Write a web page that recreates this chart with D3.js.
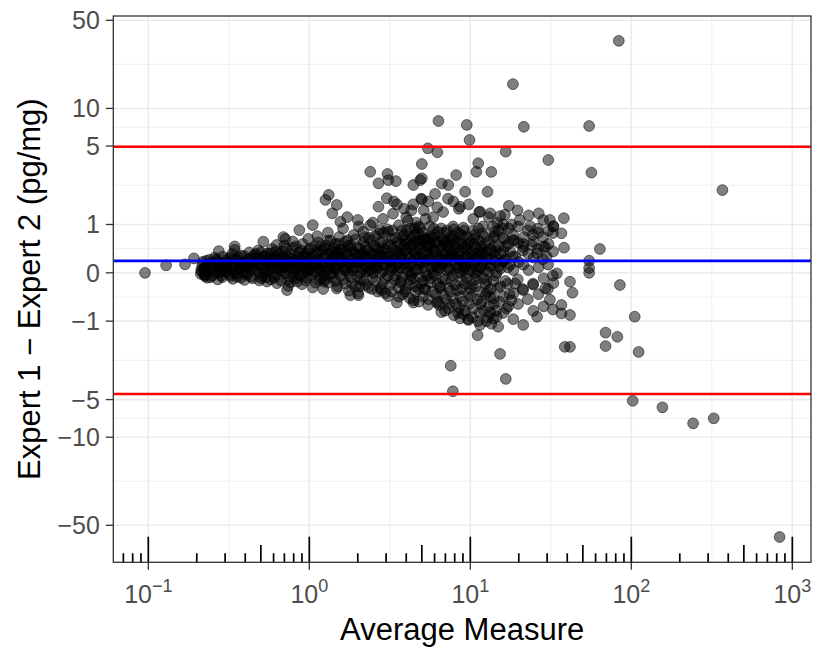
<!DOCTYPE html>
<html><head><meta charset="utf-8">
<script src="https://cdn.jsdelivr.net/npm/d3@7"></script>
<style>
body{margin:0;background:#fff}
svg{display:block}
text{font-family:"Liberation Sans",Arial,Helvetica,sans-serif}
</style>
</head><body>
<svg id="chart" width="830" height="664"></svg>
<script>
// ---------- data ----------
const xTickValues = [0.1, 1, 10, 100, 1000];
const xTickExponents = ["\u22121", "0", "1", "2", "3"];
const yTickValues = [-50, -10, -5, -1, 0, 1, 5, 10, 50];
const yTickLabels = ["\u221250", "\u221210", "\u22125", "\u22121", "0", "1", "5", "10", "50"];
const meanDifference = 0.22;
const agreementLimits = [-4.50, 4.94];
const xTitle = "Average Measure";
const yTitle = "Expert 1 \u2212 Expert 2 (pg/mg)";

// dense band of measurements [average, difference]
const bandPoints = [
[0.213,0.05],[0.216,0.12],[0.212,-0.02],
[0.218,0.20],[0.222,0.08],[0.225,-0.06],[0.215,0.02],
[0.235,0.15],[0.24,0.24],[0.232,-0.09],[0.238,0.03],
[0.252,0.10],[0.258,0.28],[0.25,-0.05],[0.26,0.18],
[0.27,-0.12],[0.276,0.07],[0.268,0.22],[0.279,0.01],
[0.29,0.30],[0.296,0.14],[0.288,-0.08],[0.3,0.04],
[0.312,0.19],[0.318,-0.03],[0.31,0.26],[0.322,0.09],
[0.335,-0.11],[0.341,0.12],[0.332,0.35],[0.344,0.02],
[0.36,0.22],[0.366,0.06],[0.356,-0.07],[0.369,0.16],[0.362,0.29],
[0.387,0.00],[0.393,0.31],[0.383,0.11],[0.396,-0.13],[0.39,0.19],
[0.414,0.08],[0.421,0.25],[0.41,-0.04],[0.424,0.38],[0.418,0.14],
[0.445,-0.10],[0.452,0.20],[0.44,0.05],[0.455,0.33],[0.449,0.12],
[0.478,0.27],[0.486,0.00],[0.473,0.15],[0.49,-0.14],[0.482,0.42],
[0.514,0.09],[0.522,0.30],[0.508,-0.06],[0.526,0.21],[0.518,0.03],
[0.551,0.36],[0.56,0.13],[0.546,-0.16],[0.565,0.24],[0.556,0.05],
[0.592,0.00],[0.601,0.18],[0.586,0.45],[0.606,-0.09],[0.597,0.29],
[0.636,0.11],[0.646,0.34],[0.63,-0.19],[0.65,0.22],[0.641,0.06],
[0.682,0.40],[0.693,-0.02],[0.676,0.15],[0.698,0.52],[0.688,0.27],
[0.733,-0.12],[0.745,0.08],[0.727,0.31],[0.75,0.20],[0.74,-0.24],
[0.788,0.47],[0.8,0.02],[0.781,0.25],[0.806,0.13],[0.795,-0.07],[0.79,0.60],
[0.846,0.16],[0.86,0.38],[0.84,-0.16],[0.866,0.07],[0.854,0.28],[0.85,-0.03],
[0.91,0.55],[0.924,0.10],[0.902,-0.21],[0.93,0.33],[0.917,0.19],[0.92,0.00],
[0.976,0.23],[0.992,0.44],[0.968,-0.09],[1.0,0.05],[0.985,0.66],[0.98,0.14],
[1.05,-0.27],[1.07,0.30],[1.04,0.11],[1.075,0.50],[1.06,0.02],[1.055,0.20],
[1.13,0.37],[1.15,-0.13],[1.12,0.72],[1.155,0.08],[1.14,0.25],[1.135,0.58],
[1.21,0.15],[1.23,-0.05],[1.2,0.42],[1.235,0.28],[1.22,-0.30],[1.215,0.03],
[1.3,0.62],[1.32,0.19],[1.29,0.06],[1.325,0.35],[1.31,-0.18],[1.305,0.80],
[1.4,0.10],[1.42,0.47],[1.39,-0.08],[1.425,0.24],[1.41,0.00],[1.405,0.31],
[1.5,-0.25],[1.52,0.55],[1.49,0.14],[1.53,0.70],[1.51,0.38],[1.505,0.05],
[1.61,0.21],[1.63,-0.12],[1.6,0.44],[1.64,0.08],[1.62,0.90],[1.615,0.29],
[1.73,0.63],[1.75,0.00],[1.72,0.33],[1.76,-0.33],[1.74,0.17],[1.735,0.51],
[1.86,0.11],[1.88,0.40],[1.85,-0.20],[1.89,0.75],[1.87,0.26],[1.865,0.04],
[2.0,0.48],[2.02,0.19],[1.99,-0.06],[2.03,0.95],[2.01,0.32],[2.005,-0.38],
[2.15,0.07],[2.17,0.58],[2.14,0.23],[2.18,-0.15],[2.16,0.82],[2.155,0.36],
[2.31,0.42],[2.33,-0.27],[2.3,0.13],[2.34,0.68],[2.32,0.02],[2.315,0.27],
[2.48,1.05],[2.5,0.18],[2.47,-0.09],[2.51,0.52],[2.49,0.35],[2.485,0.00],
[2.67,0.09],[2.69,0.46],[2.66,-0.35],[2.7,0.28],[2.68,0.78],[2.675,0.20],
[2.86,0.60],[2.88,0.14],[2.85,-0.20],[2.9,0.38],[2.87,1.15],[2.865,0.03],
[3.08,-0.05],[3.1,0.31],[3.06,0.88],[3.12,0.22],[3.09,-0.44],[3.085,0.55],
[3.3,0.45],[3.34,0.08],[3.28,0.66],[3.36,-0.13],[3.32,0.26],[3.31,1.3],
[3.54,0.17],[3.58,-0.28],[3.52,0.39],[3.6,0.98],[3.56,0.04],[3.55,0.60],
[3.81,0.72],[3.85,0.25],[3.78,-0.08],[3.87,1.45],[3.83,0.50],[3.82,-0.40],
[4.09,0.12],[4.13,0.36],[4.06,0.85],[4.15,-0.22],[4.11,0.02],[4.1,1.1],
[4.38,0.55],[4.43,-0.52],[4.35,0.21],[4.45,0.70],[4.41,0.40],[4.4,-0.10],[4.42,1.6],
[4.71,0.06],[4.76,0.95],[4.68,0.30],[4.79,-0.30],[4.74,0.78],[4.73,0.48],[4.75,0.15],
[5.06,0.62],[5.11,-0.15],[5.03,0.38],[5.14,1.4],[5.09,0.10],[5.08,-0.45],[5.1,0.80],
[5.44,0.25],[5.5,0.68],[5.41,-0.05],[5.53,0.52],[5.47,-0.62],[5.46,0.33],[5.48,1.7],
[5.84,0.70],[5.9,0.12],[5.8,-0.35],[5.93,0.90],[5.87,0.44],[5.86,0.00],[5.88,1.2],
[6.27,-0.20],[6.34,0.58],[6.23,1.5],[6.37,0.27],[6.31,-0.55],[6.3,0.82],[6.32,0.06],
[6.73,0.35],[6.8,0.62],[6.69,-0.10],[6.84,0.65],[6.77,-0.40],[6.76,0.18],[6.78,1.35],
[7.23,0.50],[7.31,-0.28],[7.18,0.85],[7.35,0.08],[7.27,1.8],[7.26,0.30],[7.28,-0.70],
[7.76,-0.05],[7.85,0.72],[7.72,0.22],[7.9,0.88],[7.81,-0.48],[7.8,0.40],[7.82,0.95],
[8.34,0.60],[8.44,0.10],[8.29,-0.32],[8.49,1.45],[8.39,0.35],[8.38,-0.80],[8.4,0.80],
[8.95,0.18],[9.05,0.92],[8.9,-0.15],[9.1,0.48],[9.0,0.72],[8.99,-0.55],[9.02,0.05],
[9.62,0.70],[9.72,-0.38],[9.56,0.28],[9.78,1.6],[9.67,0.00],[9.66,0.55],[9.68,-0.95],
[10.3,0.40],[10.5,0.66],[10.25,-0.22],[10.55,0.15],[10.4,-0.70],[10.38,0.85],[10.42,1.15],
[11.1,0.05],[11.3,0.62],[11.05,-0.50],[11.35,1.35],[11.2,0.30],[11.18,-1.0],[11.22,0.90],
[11.9,0.78],[12.1,-0.10],[11.85,0.45],[12.15,-0.75],[12.0,0.95],[12.02,0.20],
[12.8,0.25],[13.0,1.2],[12.75,-0.35],[13.05,0.60],[12.9,-0.90],[12.92,0.02],
[13.8,0.95],[14.0,-0.60],[13.75,0.38],[14.05,0.82],[13.9,-0.15],[13.92,0.70],
[14.8,-0.28],[15.0,0.50],[14.75,1.05],[15.05,0.12],[14.9,-1.15],[14.92,0.85],
[15.9,0.68],[16.1,-0.45],[15.85,0.9],[16.15,0.22],[16.0,-0.80],[16.02,0.40],
[17.1,0.10],[17.3,0.90],[17.05,-0.20],[17.35,1.55],[17.2,0.55],[17.22,-0.65],
[18.4,0.75],[18.6,-0.38],[18.35,0.30],[18.65,0.62],[18.5,-0.95],[18.52,0.05],
[19.7,-0.12],[19.9,0.58],[19.65,1.4],[19.95,0.20],[19.8,-0.60],[19.82,0.95],
[21.2,0.42],[21.4,0.55],[21.15,-0.30],[21.45,0.70],[21.3,-1.1],[21.32,0.15],
[22.8,0.85],[23.0,0.05],[22.75,-0.50],[23.05,1.25],[22.9,0.35],
[24.5,-0.20],[24.7,0.60],[24.45,0.75],[24.75,0.28],[24.6,-0.75],
[26.3,0.45],[26.5,-0.40],[26.25,0.90],[26.55,0.10],[26.4,0.8],
[28.3,0.70],[28.5,-0.10],[28.25,0.25],[28.55,-0.65],[28.4,0.5],
[30.4,0.15],[30.6,0.55],[30.35,-0.30],[30.65,0.85],
[32.6,-0.05],[32.8,0.95],[32.65,0.40],
[3.7,0.3],[3.72,-0.15],[3.75,0.85],[3.95,0.55],[3.97,-0.3],[4.0,1.2],[3.98,0.18],
[4.25,0.65],[4.28,-0.05],[4.3,1.4],[4.22,0.9],[4.55,0.28],[4.58,-0.35],[4.6,1.05],[4.52,0.75],
[4.9,0.45],[4.93,-0.2],[4.86,0.92],[4.95,1.8],[5.25,0.2],[5.3,0.65],[5.2,-0.3],[5.28,1.15],
[5.65,0.55],[5.7,-0.1],[5.6,0.95],[6.05,0.4],[6.1,-0.4],[6.0,0.75],[6.55,0.15],[6.6,0.9],[6.5,-0.25],
[7.0,0.6],[7.05,-0.5],[6.95,0.25],[7.55,0.45],[7.6,-0.15],[7.5,0.7],[8.1,0.2],[8.15,-0.6],[8.05,0.55],
[8.7,0.75],[8.75,-0.3],[8.65,0.3],[9.3,0.1],[9.35,0.45],[9.25,-0.75],[10.0,0.6],[10.1,-0.45],[9.9,0.2],
[10.8,0.35],[10.85,-0.25],[10.7,0.75],[11.6,-0.6],[11.65,0.5],[11.55,0.1],[12.4,0.4],[12.5,-0.4],
[13.3,0.15],[13.4,-0.3],[14.3,0.3],[14.4,-0.75],
[1.35,0.15],[1.45,0.4],[1.55,0.25],[1.68,0.1],[1.8,0.45],[1.95,0.2],[2.1,0.35],[2.25,0.05],[2.4,0.3],
[2.6,0.15],[2.78,0.4],[2.95,0.25],[3.2,0.1],[3.45,0.35],[0.95,0.3],[1.1,0.15],[1.25,0.45],[0.82,0.18],
[0.7,0.09],[0.6,0.12]
];

// densest core of the band [average, difference]
const corePoints = [
[0.227,0.10],[0.228,0.22],[0.226,-0.03],
[0.245,0.05],[0.246,0.17],[0.244,-0.08],
[0.264,0.25],[0.265,0.00],[0.263,0.12],
[0.283,0.18],[0.284,-0.05],[0.282,0.08],
[0.304,0.02],[0.305,0.22],[0.303,0.12],
[0.326,0.28],[0.327,0.06],[0.325,-0.06],
[0.35,0.15],[0.351,-0.02],[0.349,0.25],
[0.376,0.09],[0.377,0.32],[0.375,-0.09],
[0.403,0.20],[0.404,0.01],[0.402,0.13],
[0.433,0.27],[0.434,-0.07],[0.432,0.16],
[0.465,0.08],[0.466,0.35],[0.464,0.20],
[0.5,0.14],[0.502,-0.10],[0.498,0.25],[0.501,0.38],
[0.537,0.02],[0.539,0.19],[0.535,0.31],[0.538,-0.08],
[0.577,0.22],[0.579,0.08],[0.575,-0.12],[0.578,0.36],
[0.62,0.15],[0.622,0.40],[0.618,-0.04],[0.621,0.26],
[0.666,0.05],[0.668,0.30],[0.664,0.18],[0.667,-0.14],
[0.715,0.22],[0.717,0.45],[0.713,0.00],[0.716,0.12],
[0.768,0.35],[0.77,0.10],[0.766,-0.17],[0.769,0.26],
[0.825,0.05],[0.827,0.22],[0.823,0.50],[0.826,-0.10],
[0.885,0.30],[0.887,0.12],[0.883,-0.05],[0.886,0.42],
[0.95,0.18],[0.952,0.36],[0.948,-0.14],[0.951,0.06],
[1.02,0.28],[1.022,0.09],[1.018,0.45],[1.021,-0.06],
[1.095,0.15],[1.097,0.38],[1.093,-0.18],[1.096,0.02],
[1.175,0.50],[1.177,0.20],[1.173,0.04],[1.176,-0.10],
[1.26,0.30],[1.262,0.10],[1.258,-0.12],[1.261,0.52],
[1.355,0.22],[1.357,0.40],[1.353,-0.02],[1.356,0.62],
[1.455,0.08],[1.457,0.32],[1.453,0.55],[1.456,-0.15],
[1.565,0.18],[1.567,0.45],[1.563,-0.05],[1.566,0.30],
[1.68,0.38],[1.682,0.05],[1.678,0.60],[1.681,-0.20],
[1.805,0.25],[1.807,-0.08],[1.803,0.15],[1.806,0.52],
[1.94,0.35],[1.942,0.10],[1.938,-0.25],[1.941,0.65],
[2.08,0.20],[2.082,0.45],[2.078,0.00],[2.081,-0.12],
[2.235,0.50],[2.237,0.12],[2.233,0.30],[2.236,-0.22],
[2.4,0.05],[2.402,0.38],[2.398,0.62],[2.401,0.18],
[2.58,0.25],[2.582,-0.15],[2.578,0.48],[2.581,0.10],
[2.77,0.33],[2.772,0.00],[2.768,0.58],[2.771,-0.28],
[2.97,0.15],[2.972,0.44],[2.968,-0.10],[2.971,0.30],
[3.19,0.52],[3.192,0.20],[3.188,-0.22],[3.191,0.05],
[3.43,0.12],[3.432,0.40],[3.428,0.68],[3.431,-0.05],
[3.68,0.25],[3.682,-0.18],[3.678,0.55],[3.681,0.35],
[3.95,0.08],[3.952,0.42],[3.948,-0.35],[3.951,0.62],
[4.24,0.28],[4.242,-0.12],[4.238,0.50],[4.241,0.15],
[4.56,0.35],[4.562,0.05],[4.558,-0.25],[4.561,0.60],
[4.9,0.18],[4.902,0.55],[4.898,-0.08],[4.901,0.30],
[5.26,0.40],[5.262,0.00],[5.258,0.65],[5.261,-0.30],
[5.65,0.22],[5.652,0.48],[5.648,-0.18],[5.651,0.10],
[6.07,0.32],[6.072,-0.05],[6.068,0.58],[6.071,0.15],
[6.52,0.45],[6.522,0.10],[6.518,-0.28],[6.521,0.25],
[7.0,0.20],[7.002,0.55],[6.998,-0.12],[7.001,0.38],
[7.52,0.30],[7.522,-0.35],[7.518,0.05],[7.521,0.62],
[8.08,0.15],[8.082,0.48],[8.078,-0.22],[8.081,0.30],
[8.68,0.40],[8.682,0.00],[8.678,0.22],[8.681,-0.45],
[9.32,0.28],[9.322,-0.20],[9.318,0.50],[9.321,0.12],
[10.0,0.35],[10.02,0.05],[9.98,-0.30],[10.01,0.18],
[10.75,0.22],[10.77,0.48],[10.73,-0.12],[10.76,0.00],
[11.55,0.10],[11.57,0.38],[11.53,-0.35],[11.56,0.25],
[12.4,0.30],[12.42,-0.20],[12.38,0.55],[12.41,0.05],
[13.3,0.45],[13.32,0.12],[13.28,-0.45],
[14.3,0.20],[14.32,-0.05],[14.28,0.40],
[15.4,0.08],[15.42,0.35],[15.38,-0.25],
[16.5,0.25],[16.52,-0.15],[16.48,0.50],
[17.7,0.15],[17.72,0.40],
[19.0,0.30],[19.02,-0.20],
[3.6,-0.45],[3.9,0.75],[4.2,-0.48],[4.5,0.9],[4.8,-0.55],[5.15,0.7],[5.5,-0.5],[5.95,0.68],[6.4,-0.62],
[6.9,0.8],[7.4,-0.6],[7.95,0.65],[8.5,-0.68],[9.15,0.85],[9.85,-0.6],[10.6,0.55],[11.4,-0.8],[12.2,0.7],
[13.1,-0.65],[14.1,0.5],[15.2,-0.55],[16.3,0.65],[17.5,-0.4],
[3.65,0.1],[4.05,0.45],[4.35,0.0],[4.7,0.6],[5.0,0.2],[5.4,0.5],[5.75,0.3],[6.2,0.1],[6.65,0.5],
[7.15,0.05],[7.7,0.35],[8.25,0.0],[8.85,0.55],[9.5,-0.1],[10.2,0.3],[11.0,-0.05],[11.8,0.35],[12.6,-0.15],
[13.6,0.25],[14.6,0.0],[15.7,0.2],
[6.6,-0.78],[7.9,-0.85],[9.0,-0.82],[10.3,-0.9],[12.6,-1.0],[14.6,-0.88],[16.8,-0.7],
[2.2,0.7],[2.55,0.72],[2.9,0.8],[3.3,0.85],[2.05,-0.25],[2.45,-0.3],[2.8,-0.32],[3.25,-0.35]
];

// individually readable measurements [average, difference]
const scatterPoints = [
[0.0954,0.0],[0.129,0.137],[0.169,0.155],[0.192,0.266],[0.224,-0.04],[0.274,0.405],[0.344,0.50],[0.344,0.43],
[0.727,-0.32],[0.867,0.86],[1.05,0.985],[0.518,0.6],[0.69,0.7],[0.627,0.53],
[1.32,1.95],[1.26,1.76],[1.48,1.58],[1.39,1.31],[0.71,0.66],[1.56,1.07],[1.72,1.2],[2.0,1.12],[2.39,0.985],
[2.69,1.52],[3.03,1.82],[3.35,1.7],[2.76,0.86],[3.1,0.82],
[2.39,3.08],[2.69,2.46],[3.06,2.95],[3.1,2.62],[3.45,2.57],[4.43,2.38],[4.88,2.62],[5.0,2.71],
[6.34,7.94],[9.51,7.39],[9.89,5.59],[21.5,7.14],[54.7,7.24],[5.45,4.79],[6.24,4.45],[16.6,4.5],[30.5,3.85],
[56.5,3.03],[5.0,3.57],[11.2,3.62],[10.9,3.08],[13.5,3.07],[8.17,2.89],[18.4,15.6],
[6.64,2.45],[7.3,2.38],[9.28,2.08],[12.8,2.08],[6.04,1.99],[5.0,1.78],[7.85,1.70],[8.64,1.52],[11.5,1.36],
[3.5,1.6],[13.3,1.31],[15.3,1.23],[16.4,1.27],[20.3,1.12],[23.5,0.96],[26.6,1.31],[28.4,1.12],[31.2,1.12],
[32.8,0.96],[32.6,0.79],[24.1,0.53],[29.2,0.49],[26.0,0.36],[29.8,0.30],[16.0,1.0],[18.0,1.0],[14.2,0.72],
[18.5,0.635],[21.3,0.49],
[83.6,34.4],[368,2.15],[38.1,1.17],[36.8,0.785],[38.2,0.474],[63.8,0.448],[54.7,0.222],[54.7,0.088],
[54.7,0.0],[84.9,-0.224],[41.6,-0.163],[43.1,-0.371],[36.8,-0.62],[41.6,-0.848],[36.8,-0.81],[105,-0.889],
[69.2,-1.32],[81.9,-1.45],[69.2,-1.77],[111,-2.0],[38.6,-1.80],[41.6,-1.80],[102,-5.11],[156,-5.77],
[242,-7.75],[325,-7.07],[834,-61.9],
[7.56,-2.63],[7.79,-4.28],[15.3,-2.08],[16.6,-3.39],[11.1,-1.40],[26.0,-0.89],[32.6,-0.72],[31.2,-0.51],
[29.2,-0.29],[32.8,-0.19],[34.5,-0.01],[24.6,-0.22],[21.3,-0.32],[18.0,-0.52],[13.9,-0.48],[11.8,-0.55],
[13.3,-0.79],[13.9,-0.93],[13.5,-1.07],[11.5,-1.1],[9.73,-0.97],[8.64,-0.93],[6.97,-0.75],[6.19,-0.57],
[4.43,-0.57],[3.5,-0.57],[2.96,-0.38],[2.02,-0.42],[1.23,-0.16],[1.48,-0.29],[1.8,-0.42]
];

// ---------- layout ----------
const panel = {left: 113.3, right: 811, top: 16, bottom: 562.3};
const svg = d3.select("#chart");

const x = d3.scaleLog()
  .domain([Math.pow(10, -1.2174), Math.pow(10, 3.116)])
  .range([panel.left, panel.right]);
// pseudo-log (asinh) transform for the difference axis
const yT = d3.scaleLinear().domain([-5.280, 4.684]).range([panel.bottom, panel.top]);
const y = v => yT(Math.asinh(v));

const gridColor = "#EBEBEB";
const g = svg.append("g");

// minor grid
const xMinor = d3.pairs(xTickValues).map(([a, b]) => Math.sqrt(a * b));
const yMinor = d3.pairs(yTickValues).map(([a, b]) => Math.sinh((Math.asinh(a) + Math.asinh(b)) / 2));
g.selectAll(".xminor").data(xMinor).join("line")
  .attr("x1", d => x(d)).attr("x2", d => x(d))
  .attr("y1", panel.top).attr("y2", panel.bottom)
  .attr("stroke", gridColor).attr("stroke-width", 0.8);
g.selectAll(".yminor").data(yMinor).join("line")
  .attr("x1", panel.left).attr("x2", panel.right)
  .attr("y1", d => y(d)).attr("y2", d => y(d))
  .attr("stroke", gridColor).attr("stroke-width", 0.8);
// major grid
g.selectAll(".xmajor").data(xTickValues).join("line")
  .attr("x1", d => x(d)).attr("x2", d => x(d))
  .attr("y1", panel.top).attr("y2", panel.bottom)
  .attr("stroke", gridColor).attr("stroke-width", 1.6);
g.selectAll(".ymajor").data(yTickValues).join("line")
  .attr("x1", panel.left).attr("x2", panel.right)
  .attr("y1", d => y(d)).attr("y2", d => y(d))
  .attr("stroke", gridColor).attr("stroke-width", 1.6);

// points
const allPoints = bandPoints.concat(corePoints, scatterPoints);
svg.append("g").selectAll("circle").data(allPoints).join("circle")
  .attr("cx", d => x(d[0])).attr("cy", d => y(d[1])).attr("r", 5.4)
  .attr("fill", "#000").attr("fill-opacity", 0.5)
  .attr("stroke", "#000").attr("stroke-opacity", 0.5).attr("stroke-width", 1);

// reference lines
svg.append("line")
  .attr("x1", panel.left).attr("x2", panel.right)
  .attr("y1", y(meanDifference)).attr("y2", y(meanDifference))
  .attr("stroke", "#0000FF").attr("stroke-width", 2.6);
svg.append("g").selectAll("line").data(agreementLimits).join("line")
  .attr("x1", panel.left).attr("x2", panel.right)
  .attr("y1", d => y(d)).attr("y2", d => y(d))
  .attr("stroke", "#FF0000").attr("stroke-width", 2.6);

// log ticks (rug) along bottom
const logTicks = [];
for (let k = -2; k <= 3; k++) for (let m = 1; m <= 9; m++) {
  const v = m * Math.pow(10, k);
  const px = x(v);
  if (px > panel.left + 0.5 && px < panel.right - 0.5) logTicks.push({v, m});
}
svg.append("g").selectAll("line").data(logTicks).join("line")
  .attr("x1", d => x(d.v)).attr("x2", d => x(d.v))
  .attr("y1", panel.bottom)
  .attr("y2", d => panel.bottom - (d.m === 1 ? 25.6 : d.m === 5 ? 17.3 : 9))
  .attr("stroke", "#000").attr("stroke-width", 1.7);

// panel border
svg.append("rect")
  .attr("x", panel.left).attr("y", panel.top)
  .attr("width", panel.right - panel.left).attr("height", panel.bottom - panel.top)
  .attr("fill", "none").attr("stroke", "#333333").attr("stroke-width", 1.3);

// axis ticks
const tickLen = 7.5;
svg.append("g").selectAll("line").data(xTickValues).join("line")
  .attr("x1", d => x(d)).attr("x2", d => x(d))
  .attr("y1", panel.bottom).attr("y2", panel.bottom + tickLen)
  .attr("stroke", "#333333").attr("stroke-width", 1.3);
svg.append("g").selectAll("line").data(yTickValues).join("line")
  .attr("x1", panel.left - tickLen).attr("x2", panel.left)
  .attr("y1", d => y(d)).attr("y2", d => y(d))
  .attr("stroke", "#333333").attr("stroke-width", 1.3);

// y tick labels
svg.append("g").selectAll("text").data(yTickValues).join("text")
  .attr("x", panel.left - tickLen - 6).attr("y", d => y(d)).attr("dy", "0.36em")
  .attr("text-anchor", "end").attr("font-size", 25).attr("fill", "#4D4D4D")
  .text((d, i) => yTickLabels[i]);

// x tick labels with superscripts
const xl = svg.append("g").selectAll("text").data(xTickValues).join("text")
  .attr("x", d => x(d)).attr("y", 602.5)
  .attr("text-anchor", "middle").attr("font-size", 25).attr("fill", "#4D4D4D");
xl.append("tspan").text("10");
xl.append("tspan").attr("dy", -10.5).attr("font-size", 18).text((d, i) => xTickExponents[i]);

// axis titles
svg.append("text")
  .attr("x", (panel.left + panel.right) / 2).attr("y", 640)
  .attr("text-anchor", "middle").attr("font-size", 31).attr("fill", "#000")
  .text(xTitle);
svg.append("text")
  .attr("transform", `translate(39.5,${(panel.top + panel.bottom) / 2}) rotate(-90)`)
  .attr("text-anchor", "middle").attr("font-size", 31).attr("fill", "#000")
  .text(yTitle);
</script>
</body></html>
